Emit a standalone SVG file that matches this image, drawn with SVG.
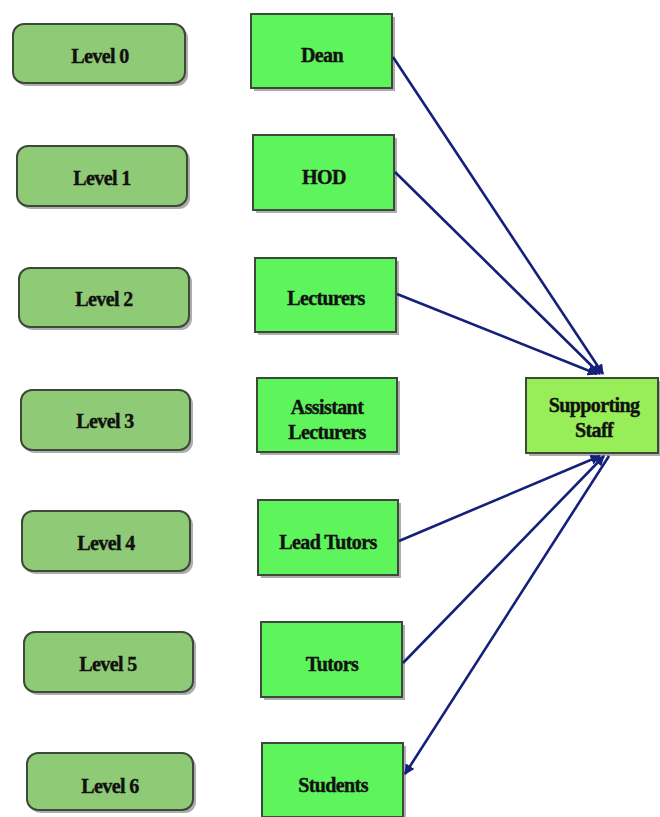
<svg xmlns="http://www.w3.org/2000/svg" width="660" height="817" viewBox="0 0 660 817">
<defs>
<style>
.lvl{fill:#8fcb76;stroke:#3d4a3a;stroke-width:2}
.box{fill:#5ef45c;stroke:#3d4a3a;stroke-width:2}
.sup{fill:#98ee58;stroke:#3d4a3a;stroke-width:2}
.sh{fill:#6a6a6a;opacity:0.55}
text{font-family:"Liberation Serif","Times New Roman",serif;font-weight:bold;font-size:20px;letter-spacing:-0.6px;fill:#111;stroke:#111;stroke-width:0.4;text-anchor:middle;dominant-baseline:central}
.c{stroke:#14207a;stroke-width:2.6;fill:none}
</style>
<marker id="ah" viewBox="0 0 10 10" refX="9" refY="5" markerWidth="4" markerHeight="4" orient="auto"><path d="M0,0 L10,5 L0,10 z" fill="#14207a"/></marker>
</defs>
<rect width="660" height="817" fill="#ffffff"/>
<g id="level0"><rect class="sh" x="16" y="27" width="172" height="59" rx="11"/><rect class="lvl" x="13" y="24" width="172" height="59" rx="11"/><text x="100" y="56">Level 0</text></g>
<g id="level1"><rect class="sh" x="20" y="149" width="170" height="60" rx="11"/><rect class="lvl" x="17" y="146" width="170" height="60" rx="11"/><text x="102" y="178">Level 1</text></g>
<g id="level2"><rect class="sh" x="22" y="271" width="170" height="59" rx="11"/><rect class="lvl" x="19" y="268" width="170" height="59" rx="11"/><text x="104" y="299">Level 2</text></g>
<g id="level3"><rect class="sh" x="24" y="393" width="169" height="60" rx="11"/><rect class="lvl" x="21" y="390" width="169" height="60" rx="11"/><text x="105" y="421">Level 3</text></g>
<g id="level4"><rect class="sh" x="25" y="514" width="168" height="60" rx="11"/><rect class="lvl" x="22" y="511" width="168" height="60" rx="11"/><text x="106" y="543">Level 4</text></g>
<g id="level5"><rect class="sh" x="27" y="635" width="169" height="60" rx="11"/><rect class="lvl" x="24" y="632" width="169" height="60" rx="11"/><text x="108" y="664">Level 5</text></g>
<g id="level6"><rect class="sh" x="30" y="756" width="166" height="57" rx="11"/><rect class="lvl" x="27" y="753" width="166" height="57" rx="11"/><text x="110" y="786">Level 6</text></g>
<g id="dean"><rect class="sh" x="254" y="17" width="141" height="74"/><rect class="box" x="251" y="14" width="141" height="74"/><text x="322" y="55">Dean</text></g>
<g id="hod"><rect class="sh" x="256" y="138" width="141" height="75"/><rect class="box" x="253" y="135" width="141" height="75"/><text x="324" y="177">HOD</text></g>
<g id="lecturers"><rect class="sh" x="258" y="261" width="141" height="74"/><rect class="box" x="255" y="258" width="141" height="74"/><text x="326" y="298">Lecturers</text></g>
<g id="assistant"><rect class="sh" x="260" y="381" width="140" height="74"/><rect class="box" x="257" y="378" width="140" height="74"/><text x="327" y="407">Assistant</text><text x="327" y="432">Lecturers</text></g>
<g id="leadtutors"><rect class="sh" x="261" y="503" width="140" height="75"/><rect class="box" x="258" y="500" width="140" height="75"/><text x="328" y="542">Lead Tutors</text></g>
<g id="tutors"><rect class="sh" x="264" y="625" width="141" height="75"/><rect class="box" x="261" y="622" width="141" height="75"/><text x="332" y="664">Tutors</text></g>
<g id="students"><rect class="sh" x="265" y="746" width="141" height="74"/><rect class="box" x="262" y="743" width="141" height="74"/><text x="333" y="785">Students</text></g>
<g id="supporting"><rect class="sh" x="529" y="381" width="131" height="75"/><rect class="sup" x="526" y="378" width="132" height="75"/><text x="594" y="405">Supporting</text><text x="594" y="430">Staff</text></g>
<g id="connectors">
<line class="c" x1="393" y1="57" x2="603" y2="374" marker-end="url(#ah)"/>
<line class="c" x1="395" y1="172" x2="600" y2="374" marker-end="url(#ah)"/>
<line class="c" x1="397" y1="294" x2="597" y2="374" marker-end="url(#ah)"/>
<line class="c" x1="399" y1="541" x2="600" y2="456" marker-end="url(#ah)"/>
<line class="c" x1="403" y1="663" x2="604" y2="456" marker-end="url(#ah)"/>
<line class="c" x1="609" y1="456" x2="405" y2="774" marker-end="url(#ah)"/>
</g>
</svg>
